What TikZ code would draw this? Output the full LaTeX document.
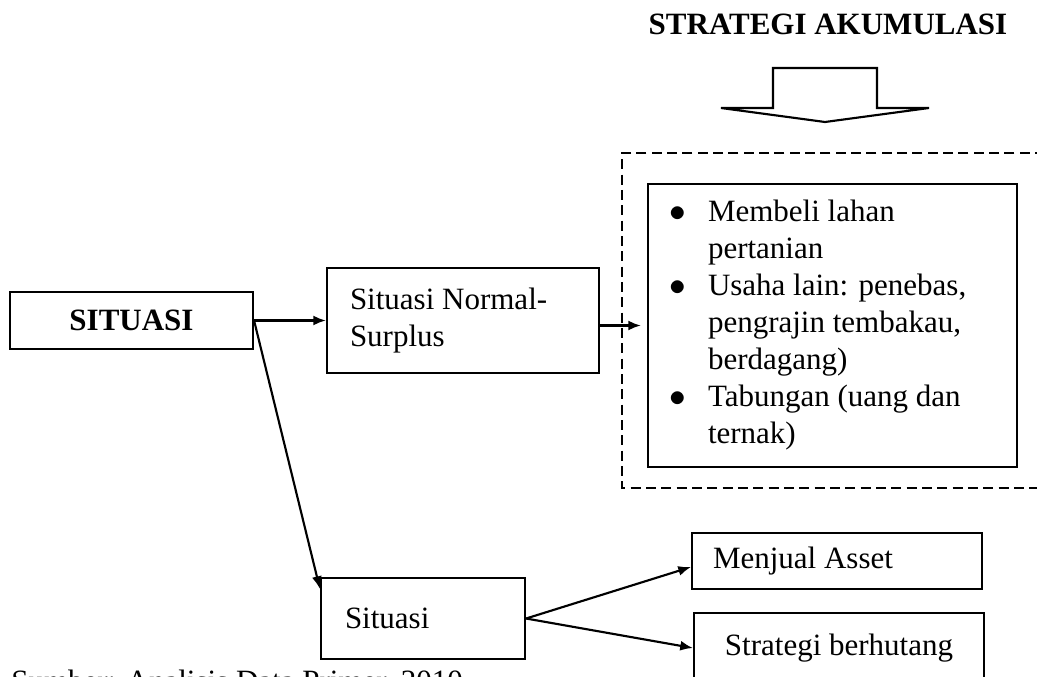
\documentclass[tikz,border=0pt]{standalone}
\usepackage{fontspec}
\setmainfont{Liberation Serif}
\usetikzlibrary{arrows,arrows.meta,calc,positioning}
\newdimen\px
\px=0.75pt
\newcommand{\butir}{\makebox[60\px][c]{$\bullet$}}
\newcommand{\indn}{\hspace*{60\px}}

\begin{document}
\begin{tikzpicture}[
x=0.75pt, y=-0.75pt,
>={Latex[length=9.5pt,width=7.5pt]},
font=\fontsize{23.25pt}{27.75pt}\selectfont,
plain/.style={
  draw=none,
  fill=none,
  inner sep=0pt
  },
kotak/.style={
  draw,
  rectangle,
  line width=1.6pt,
  inner ysep=0pt
  },
tebal/.style={
  font=\fontsize{23.25pt}{27.75pt}\selectfont\bfseries
  },
panah/.style={
  ->,
  line width=1.6pt
  }
]
\useasboundingbox (0,0) rectangle (1037,677);

\node[plain, tebal, anchor=base] (judul) at (828,35) {STRATEGI AKUMULASI};
\draw[line width=1.6pt, line join=miter] (773,108) -- (773,68) -- (877,68) -- (877,108)
  -- (929,108) -- (825,122) -- (721,108) -- cycle;
\draw[line width=1.2pt, dash pattern=on 7.5pt off 4pt] (1045,153) -- (622,153) -- (622,488) -- (1045,488);

\node[kotak, tebal, minimum width=243\px, minimum height=57\px] (situasi) at (131.5,320.5) {SITUASI};
\node[kotak, text width=226\px, inner xsep=23\px, minimum height=105\px, align=flush left] (normal) at (463,320.5)
  {Situasi Normal-\\Surplus};
\node[kotak, text width=369\px, inner xsep=0pt, minimum height=283\px, align=flush left] (akumulasi) at (832.5,325.5)
  {\butir Membeli lahan\\
   \indn pertanian\\
   \butir Usaha lain: penebas,\\
   \indn pengrajin tembakau,\\
   \indn berdagang)\\
   \butir Tabungan (uang dan\\
   \indn ternak)};
\node[kotak, text width=156\px, inner xsep=24\px, minimum height=81\px, align=flush left] (krisis) at (423,618.5) {Situasi};
\node[kotak, text width=248\px, inner xsep=21\px, minimum height=56\px, align=flush left] (jual) at (837,561) {Menjual Asset};
\node[kotak, minimum width=290\px, minimum height=70\px] (hutang) at (839,648) {Strategi berhutang};
\node[plain, anchor=base west] (sumber) at (11,691) {Sumber: Analisis Data Primer, 2010};

\draw[panah] (situasi.east) -- (normal.west);
\draw[panah, shorten >=4.5pt] (normal.east |- akumulasi.west) -- (akumulasi.west);
\draw[panah] (situasi.east) -- ($(krisis.north west)+(0,12)$);
\draw[panah] (krisis.east) -- ($(jual.west)+(0,6)$);
\draw[panah] (krisis.east) -- (hutang.west);
\end{tikzpicture}
\end{document}
